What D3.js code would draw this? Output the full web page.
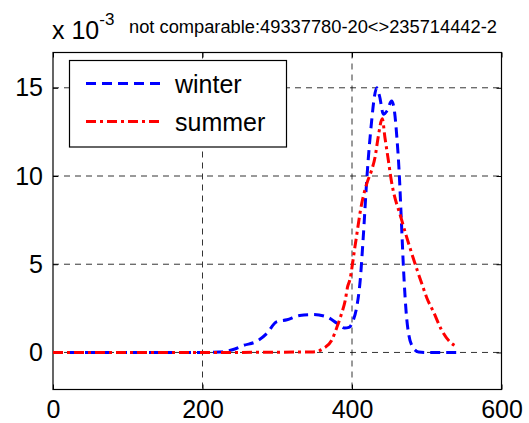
<!DOCTYPE html>
<html>
<head>
<meta charset="utf-8">
<script src="https://cdn.jsdelivr.net/npm/d3@7"></script>
<style>
  html, body { margin: 0; padding: 0; background: #fff; }
  svg { display: block; font-family: "Liberation Sans", Arial, Helvetica, sans-serif; }
</style>
</head>
<body>
<svg id="chart" width="529" height="423"></svg>
<script>
// Density estimates (values in units of 1e-3)
const winterX = [0, 100, 200, 223, 240, 255, 272, 286, 299, 313, 330, 348, 366, 380, 390, 396, 401, 406, 411, 415, 420, 426, 430, 433, 437, 442, 447, 453, 457, 460, 463, 466, 469, 473, 476, 480, 489, 500, 541];
const winterY = [0, 0, 0, 0.02, 0.15, 0.4, 0.62, 1.07, 1.73, 1.85, 2.1, 2.15, 2.02, 1.65, 1.38, 1.42, 1.75, 2.5, 4.1, 6.5, 9.95, 13.0, 14.5, 15.0, 14.5, 13.5, 13.7, 14.25, 13.6, 12.2, 10.3, 7.5, 4.66, 2.0, 1.0, 0.4, 0.03, 0, 0];

const summerX = [0, 100, 200, 348, 362, 373, 380, 386, 391, 394, 397, 404, 413, 420, 426, 431, 435, 440.5, 444, 448.6, 452, 466.5, 480, 495, 500, 509, 520, 531, 541];
const summerY = [0, 0, 0, 0.03, 0.23, 0.7, 1.45, 2.2, 2.96, 3.7, 4.1, 6.0, 8.44, 9.6, 10.3, 11.1, 12.2, 13.25, 12.2, 10.9, 9.9, 7.5, 5.6, 3.7, 3.1, 2.3, 1.26, 0.6, 0.32];

const seriesNames = ["winter", "summer"];
const xTicks = [0, 200, 400, 600];
const yTicks = [0, 5, 10, 15];
const xTickLabels = ["0", "200", "400", "600"];
const yTickLabels = ["0", "5", "10", "15"];
const scaleBase = "x 10";
const scaleExp = "-3";
const note = "not comparable:49337780-20<>235714442-2";

const svg = d3.select("#chart");
const plotLeft = 53, plotRight = 501.5, plotTop = 52.5, plotBottom = 389.5;

const x = d3.scaleLinear().domain([0, 600]).range([plotLeft, plotRight]);
const y = d3.scaleLinear().domain([-2.1, 17]).range([plotBottom, plotTop]);

// grid lines
const grid = svg.append("g").attr("stroke", "#000").attr("stroke-width", 0.8)
  .attr("stroke-dasharray", "6,5").attr("fill", "none");
xTicks.filter(t => t > 0 && t < 600).forEach(t => {
  grid.append("line").attr("x1", x(t)).attr("x2", x(t)).attr("y1", plotTop).attr("y2", plotBottom);
});
yTicks.forEach(t => {
  grid.append("line").attr("x1", plotLeft).attr("x2", plotRight).attr("y1", y(t)).attr("y2", y(t));
});

// axes with inward ticks
const font = 25;
const gx = svg.append("g").attr("transform", `translate(0,${plotBottom})`)
  .call(d3.axisBottom(x).tickValues(xTicks).tickFormat((d, i) => xTickLabels[i])
    .tickSizeInner(-5).tickSizeOuter(0).tickPadding(10.5));
const gy = svg.append("g").attr("transform", `translate(${plotLeft},0)`)
  .call(d3.axisLeft(y).tickValues(yTicks).tickFormat((d, i) => yTickLabels[i])
    .tickSizeInner(-5).tickSizeOuter(0).tickPadding(10));
const gt = svg.append("g").attr("transform", `translate(0,${plotTop})`)
  .call(d3.axisTop(x).tickValues(xTicks).tickFormat("").tickSizeInner(-5).tickSizeOuter(0));
const gr = svg.append("g").attr("transform", `translate(${plotRight},0)`)
  .call(d3.axisRight(y).tickValues(yTicks).tickFormat("").tickSizeInner(-5).tickSizeOuter(0));
[gx, gy, gt, gr].forEach(g => {
  g.select(".domain").remove();
  g.selectAll("line").attr("stroke", "#000").attr("stroke-width", 1);
  g.selectAll("text").attr("font-size", font).attr("fill", "#000")
    .attr("font-family", "Liberation Sans, Arial, sans-serif");
});

// axes box
svg.append("rect").attr("x", plotLeft).attr("y", plotTop)
  .attr("width", plotRight - plotLeft).attr("height", plotBottom - plotTop)
  .attr("fill", "none").attr("stroke", "#000").attr("stroke-width", 1.2);

// series
const line = d3.line().x(d => x(d[0])).y(d => y(d[1])).curve(d3.curveMonotoneX);
const winter = winterX.map((v, i) => [v, winterY[i]]);
const summer = summerX.map((v, i) => [v, summerY[i]]);
const styles = [
  { color: "#0000ff", dash: "10,6" },
  { color: "#ff0000", dash: "10,4,3,4" }
];
[winter, summer].forEach((data, i) => {
  svg.append("path").datum(data).attr("d", line)
    .attr("fill", "none").attr("stroke", styles[i].color)
    .attr("stroke-width", 3).attr("stroke-dasharray", styles[i].dash);
});

// legend
const lg = svg.append("g");
lg.append("rect").attr("x", 69.5).attr("y", 60.5).attr("width", 217).attr("height", 86.5)
  .attr("fill", "#fff").attr("stroke", "#000").attr("stroke-width", 1.2);
const legendY = [83.5, 121.5];
seriesNames.forEach((name, i) => {
  lg.append("line").attr("x1", 86).attr("x2", 162).attr("y1", legendY[i]).attr("y2", legendY[i])
    .attr("stroke", styles[i].color).attr("stroke-width", 3).attr("stroke-dasharray", styles[i].dash);
  lg.append("text").attr("x", 175).attr("y", legendY[i] + 9).attr("font-size", font)
    .attr("fill", "#000").text(name);
});

// exponent label and note
const exp = svg.append("text").attr("x", 52).attr("y", 38.5).attr("font-size", font).attr("fill", "#000");
exp.append("tspan").text(scaleBase);
exp.append("tspan").attr("font-size", 17).attr("dy", -14).text(scaleExp);
svg.append("text").attr("x", 129).attr("y", 33).attr("font-size", 18.3).attr("fill", "#000").text(note);
</script>
</body>
</html>
